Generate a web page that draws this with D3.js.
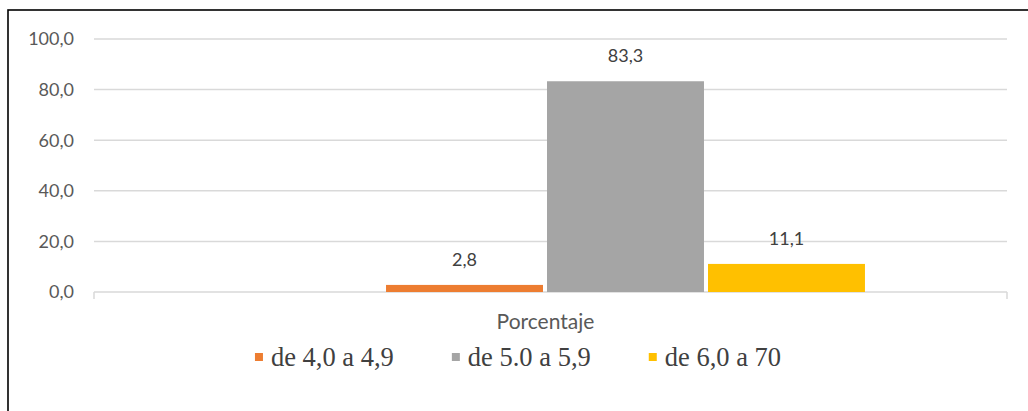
<!DOCTYPE html>
<html><head><meta charset="utf-8">
<script src="https://cdn.jsdelivr.net/npm/d3@7"></script>
<style>body{margin:0;background:#fff;}svg{display:block;}</style>
</head><body><svg id="c" width="1028" height="411"></svg>
<script>
const categories = ["Porcentaje"];
const seriesNames = ["", "de 4,0 a 4,9", "de 5.0 a 5,9", "de 6,0 a 70"];
const seriesValues = [null, 2.8, 83.3, 11.1];
const seriesColors = ["none", "#ED7D31", "#A5A5A5", "#FFC000"];
const yTicks = [0, 20, 40, 60, 80, 100];

const svg = d3.select("#c");
const sans = "Lato, 'Open Sans', sans-serif";
const serif = "'Liberation Serif', 'DejaVu Serif', serif";

svg.append("rect").attr("x", 8).attr("y", 10).attr("width", 1040).attr("height", 420)
  .attr("fill", "none").attr("stroke", "#000").attr("stroke-width", 1.6);

const plot = {left: 94, right: 1007, top: 39, bottom: 292};
const y = d3.scaleLinear().domain([0, 100]).range([plot.bottom, plot.top]);
const x0 = d3.scaleBand().domain(categories).range([plot.left, plot.right]).paddingOuter(0.2089);
const x1 = d3.scaleBand().domain(seriesNames).range([0, x0.bandwidth()]).paddingInner(0.025).paddingOuter(0.0125);

// grid
svg.append("g").selectAll("line").data(yTicks).join("line")
  .attr("x1", plot.left).attr("x2", plot.right)
  .attr("y1", d => y(d)).attr("y2", d => y(d))
  .attr("stroke", "#d9d9d9").attr("stroke-width", 1.5);

// y labels
svg.append("g").selectAll("text").data(yTicks).join("text")
  .attr("x", 74).attr("y", d => y(d)).attr("dy", "0.35em")
  .attr("text-anchor", "end").attr("fill", "#595959")
  .attr("font-family", sans).attr("font-size", 18)
  .text(d => d3.format(".1f")(d).replace(".", ","));

// x ticks at category edges
svg.append("g").selectAll("line").data([plot.left, plot.right]).join("line")
  .attr("x1", d => d).attr("x2", d => d).attr("y1", plot.bottom).attr("y2", plot.bottom + 7)
  .attr("stroke", "#d9d9d9").attr("stroke-width", 1.5);

// category label
svg.append("g").selectAll("text").data(categories).join("text")
  .attr("x", d => x0(d) + x0.bandwidth() / 2 - 5).attr("y", 329)
  .attr("text-anchor", "middle").attr("fill", "#595959")
  .attr("font-family", sans).attr("font-size", 21).text(d => d);

// bars
const barData = seriesNames.map((s, i) => ({s, v: seriesValues[i], c: seriesColors[i]})).filter(d => d.v != null);
const g = svg.append("g").attr("transform", `translate(${x0(categories[0]) - 5.5},0)`);
g.selectAll("rect").data(barData).join("rect")
  .attr("x", d => x1(d.s)).attr("width", x1.bandwidth())
  .attr("y", d => y(d.v)).attr("height", d => y(0) - y(d.v))
  .attr("fill", d => d.c);
g.selectAll("text").data(barData).join("text")
  .attr("x", d => x1(d.s) + x1.bandwidth() / 2).attr("y", d => y(d.v) - 19)
  .attr("text-anchor", "middle").attr("fill", "#404040")
  .attr("font-family", sans).attr("font-size", 18)
  .text(d => d3.format(".1f")(d.v).replace(".", ","));

// legend
const leg = svg.append("g");
const items = barData;
const fs = 26.5;
const tmp = leg.append("text").attr("font-family", serif).attr("font-size", fs);
const widths = items.map(d => { tmp.text(d.s); return tmp.node().getComputedTextLength(); });
tmp.remove();
const gapMarker = 16, gapItem = 58, ms = 8;
const total = d3.sum(widths) + items.length * gapMarker + (items.length - 1) * gapItem;
let cx = 518 - total / 2;
items.forEach((d, i) => {
  leg.append("rect").attr("x", cx).attr("y", 353).attr("width", ms).attr("height", ms).attr("fill", d.c);
  leg.append("text").attr("x", cx + gapMarker).attr("y", 366)
    .attr("font-family", serif).attr("font-size", fs).attr("fill", "#404040").text(d.s);
  cx += gapMarker + widths[i] + gapItem;
});
</script></body></html>
